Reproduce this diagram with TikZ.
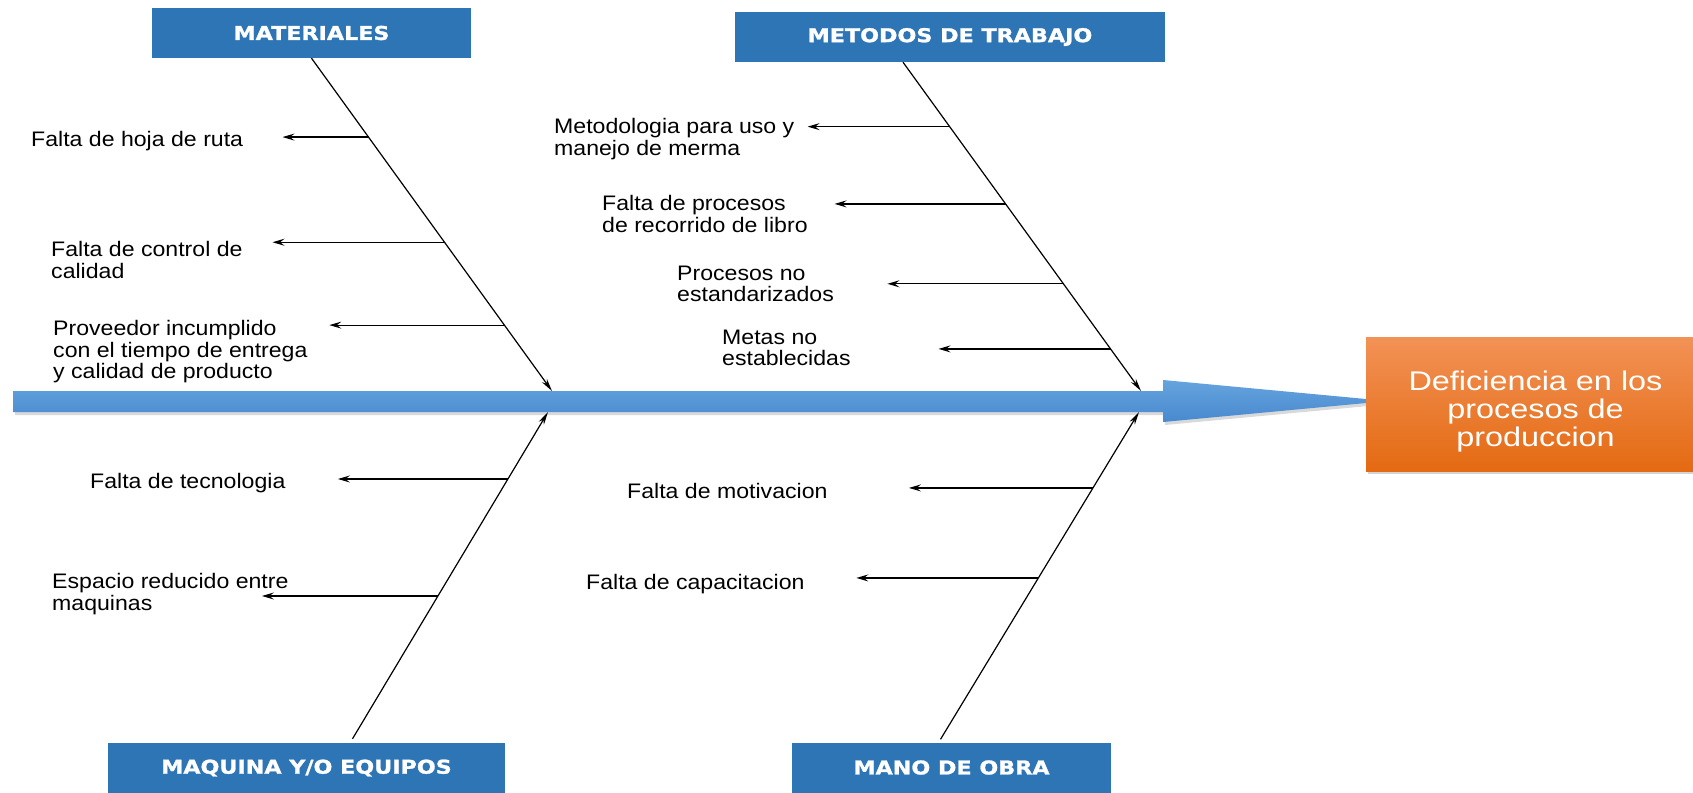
\documentclass[tikz,border=0pt]{standalone}
\usepackage{fontspec}
\setmainfont{Liberation Sans}[FakeStretch=1.1]
\newfontfamily\headfont{DejaVu Sans}[FakeStretch=1.17, BoldFeatures={FakeBold=1.3}]
\newfontfamily\effectfont{Liberation Sans}[FakeStretch=1.2]
\usepackage{tikz}
\usepackage{xcolor}
\usetikzlibrary{calc,arrows.meta,shadows}
\definecolor{headblue}{HTML}{2E75B6}
\definecolor{spinetop}{HTML}{66A4DE}
\definecolor{spinebot}{HTML}{4889CF}
\definecolor{effecttop}{HTML}{F29256}
\definecolor{effectbot}{HTML}{E46A12}

\begin{document}
\begin{tikzpicture}[x=1pt,y=-1pt]
        \tikzstyle{cause}=[fill=headblue, text=white, inner sep=0pt, minimum height=50pt, font=\headfont\bfseries\fontsize{19}{19}\selectfont]
        \tikzstyle{subcause}=[anchor=west, align=left, inner sep=0pt, font=\fontsize{21}{21.5}\selectfont]
        \tikzstyle{bone}=[line width=1.2pt, -{Stealth[length=13pt,width=6pt,inset=4pt]}]
        \tikzstyle{twig}=[line width=1.2pt, -{Stealth[length=12pt,width=7pt,inset=4.5pt]}]
            \useasboundingbox (0,0) rectangle (1693,792);

            % espina central
            \path[top color=spinetop, bottom color=spinebot, drop shadow={shadow xshift=2pt, shadow yshift=-3pt, opacity=0.3}]
                (13,391) -- (1163,391) -- (1163,380) -- (1366,399) -- (1366,403) -- (1163,422) -- (1163,412) -- (13,412) -- cycle;

            \node[cause, minimum width=319pt] (mat) at (311.5,33) {MATERIALES};
            \node[cause, minimum width=430pt] (met) at (950,37) {METODOS DE TRABAJO};
            \node[cause, minimum width=397pt] (maq) at (306.5,768) {MAQUINA Y/O EQUIPOS};
            \node[cause, minimum width=319pt] (mano) at (951.5,767.5) {MANO DE OBRA};

            \node[top color=effecttop, bottom color=effectbot, text=white, align=center, inner sep=0pt,
                  minimum width=327pt, minimum height=134pt, font=\effectfont\fontsize{27}{28}\selectfont,
                  drop shadow={shadow xshift=2pt, shadow yshift=-3pt, opacity=0.35}] (efe) at (1529.5,404)
                  {\rule{0pt}{34pt}\hspace*{12pt}Deficiencia en los\\\hspace*{12pt}procesos de\\\hspace*{12pt}produccion};

            \coordinate (matTop) at (mat.south);
            \coordinate (metTop) at ($(met.south)+(-47,0)$);
            \coordinate (maqTop) at ($(maq.north)+(46,-4)$);
            \coordinate (manoTop) at ($(mano.north)+(-11,-3)$);
            \coordinate (matTip) at (552,391);
            \coordinate (metTip) at (1141,391);
            \coordinate (maqTip) at (548,412);
            \coordinate (manoTip) at (1139,412);

            \draw[bone] (matTop) -- (matTip);
            \draw[bone] (metTop) -- (metTip);
            \draw[bone] (maqTop) -- (maqTip);
            \draw[bone] (manoTop) -- (manoTip);

            % causas secundarias
            \coordinate (mat1) at ($(matTop)!0.237!(matTip)$);
            \coordinate (mat2) at ($(matTop)!0.553!(matTip)$);
            \coordinate (mat3) at ($(matTop)!0.802!(matTip)$);
            \coordinate (met1) at ($(metTop)!0.196!(metTip)$);
            \coordinate (met2) at ($(metTop)!0.431!(metTip)$);
            \coordinate (met3) at ($(metTop)!0.674!(metTip)$);
            \coordinate (met4) at ($(metTop)!0.872!(metTip)$);
            \coordinate (maq1) at ($(maqTop)!0.795!(maqTip)$);
            \coordinate (maq2) at ($(maqTop)!0.437!(maqTip)$);
            \coordinate (mano1) at ($(manoTop)!0.768!(manoTip)$);
            \coordinate (mano2) at ($(manoTop)!0.493!(manoTip)$);

            \coordinate (mat1e) at ($(mat1)+(-86,0)$);
            \coordinate (mat2e) at ($(mat2)+(-172,0)$);
            \coordinate (mat3e) at ($(mat3)+(-175,0)$);
            \coordinate (met1e) at ($(met1)+(-142,0)$);
            \coordinate (met2e) at ($(met2)+(-171,0)$);
            \coordinate (met3e) at ($(met3)+(-176,0)$);
            \coordinate (met4e) at ($(met4)+(-172,0)$);
            \coordinate (maq1e) at ($(maq1)+(-170,0)$);
            \coordinate (maq2e) at ($(maq2)+(-176,0)$);
            \coordinate (mano1e) at ($(mano1)+(-184,0)$);
            \coordinate (mano2e) at ($(mano2)+(-182,0)$);

            \draw[twig] (mat1) -- (mat1e);
            \draw[twig] (mat2) -- (mat2e);
            \draw[twig] (mat3) -- (mat3e);
            \draw[twig] (met1) -- (met1e);
            \draw[twig] (met2) -- (met2e);
            \draw[twig] (met3) -- (met3e);
            \draw[twig] (met4) -- (met4e);
            \draw[twig] (maq1) -- (maq1e);
            \draw[twig] (maq2) -- (maq2e);
            \draw[twig] (mano1) -- (mano1e);
            \draw[twig] (mano2) -- (mano2e);

            \node[subcause] (tmat1) at (31,141) {Falta de hoja de ruta};
            \node[subcause] (tmat2) at (51,260) {Falta de control de\\calidad};
            \node[subcause] (tmat3) at (53,352) {Proveedor incumplido\\con el tiempo de entrega\\y calidad de producto};
            \node[subcause] (tmet1) at (554,139) {Metodologia para uso y\\manejo de merma};
            \node[subcause] (tmet2) at (602,214) {Falta de procesos\\de recorrido de libro};
            \node[subcause] (tmet3) at (677,284) {Procesos no\\estandarizados};
            \node[subcause] (tmet4) at (722,348) {Metas no\\establecidas};
            \node[subcause] (tmaq1) at (90,483) {Falta de tecnologia};
            \node[subcause] (tmaq2) at (52,594) {Espacio reducido entre\\maquinas};
            \node[subcause] (tmano1) at (627,491) {Falta de motivacion};
            \node[subcause] (tmano2) at (586,584) {Falta de capacitacion};

        \end{tikzpicture}
\end{document}
